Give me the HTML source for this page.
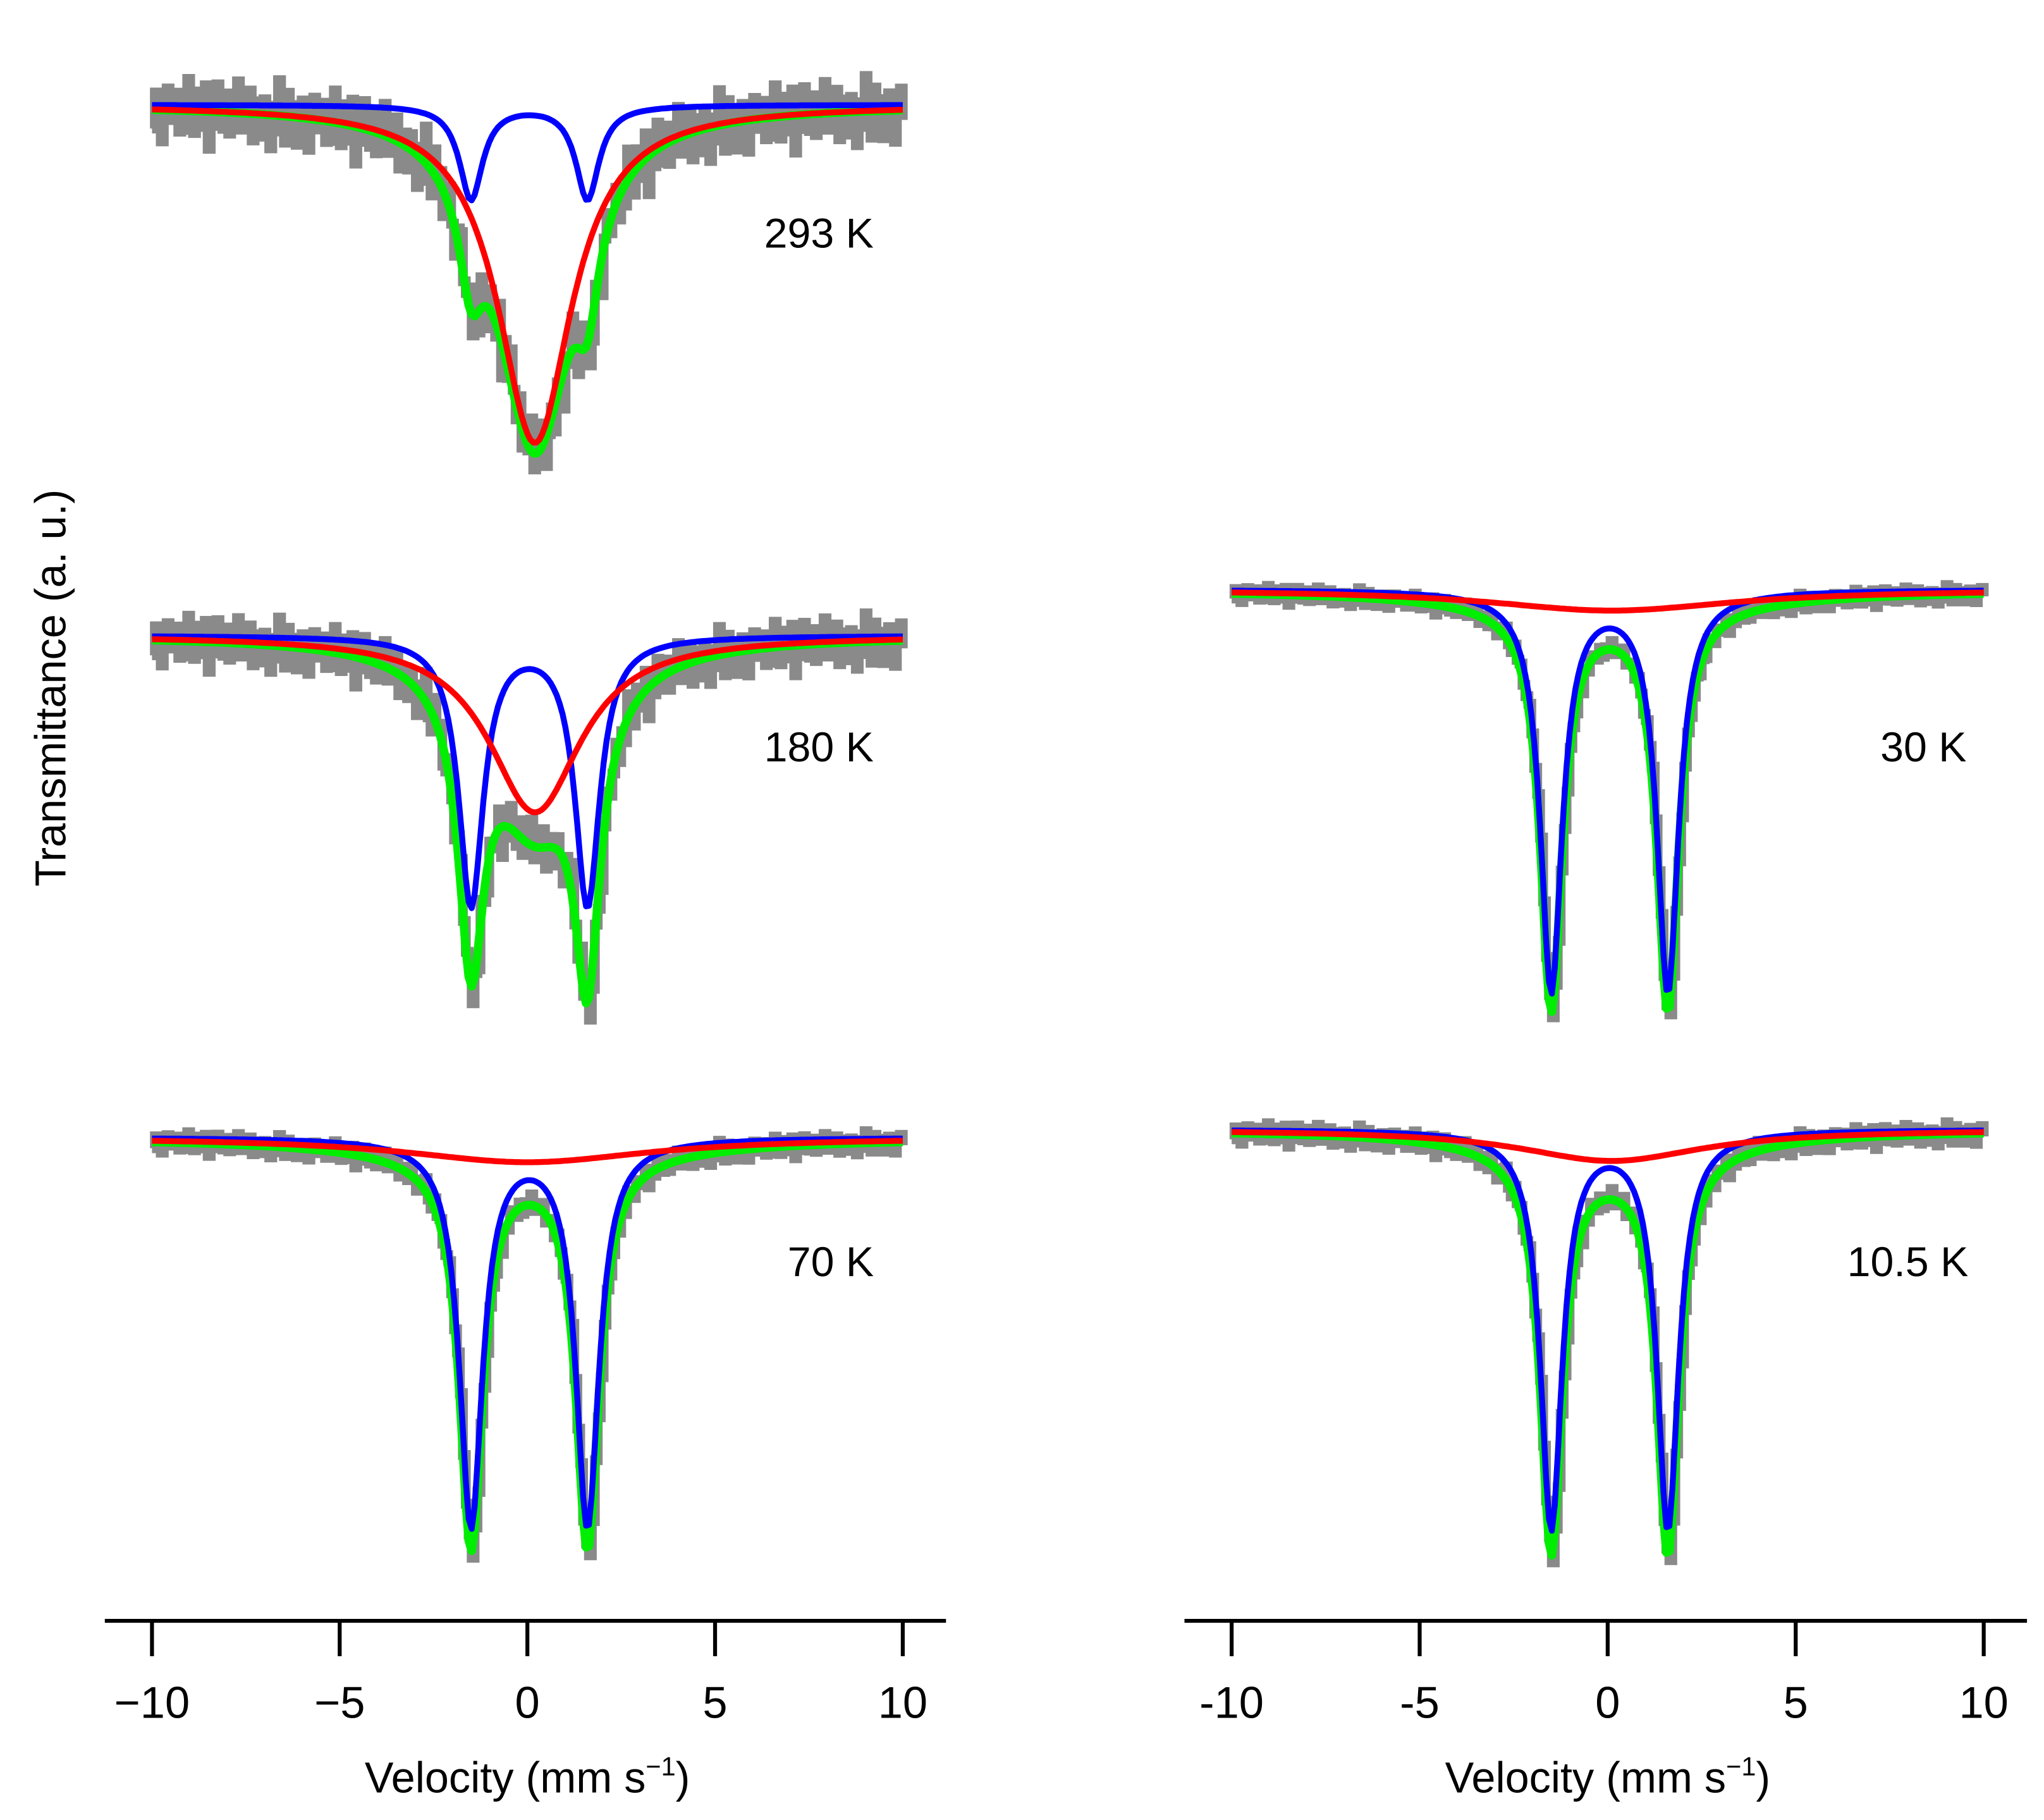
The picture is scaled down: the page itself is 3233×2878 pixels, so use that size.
<!DOCTYPE html>
<html><head><meta charset="utf-8"><style>
html,body{margin:0;padding:0;background:#fff}
svg{display:block}
text{font-family:"Liberation Sans",Arial,sans-serif;fill:#000}
</style></head><body>
<svg id="chart" width="3233" height="2878" viewBox="0 0 1560 1389" preserveAspectRatio="none" xmlns="http://www.w3.org/2000/svg"></svg>
<script>
// ---- data ----
const panelNames = ["293 K","180 K","70 K","30 K","10.5 K"];
const doubletCenters = [[-1.5,1.6],[-1.5,1.6],[-1.5,1.6],[-1.5,1.6],[-1.5,1.6]];
const doubletDepth = [72,205,295,305,303];
const doubletFwhm = [0.75,0.8,0.75,0.7,0.7];
const broadCenter = [0.2,0.2,0.0,0.1,0.1];
const broadDepth = [258,135,19,16,24];
const broadFwhm = [2.4,3.0,8,8,6];
const noiseAmp = [30,24,10,8,10];
const noise = [0.6,-0.8,0.3,1.0,-0.4,-1.0,0.5,0.1,-0.6,0.9,-0.2,0.7,-0.9,0.2,0.8,-0.5,-0.1,0.4,-0.7,1.0,-0.3,0.6,-1.0,0.0,0.5,-0.6,0.9,-0.4,0.2,-0.8,0.7,0.3,-0.2,-0.9,0.8,0.1,-0.5,0.6,-0.7,0.4,1.0,-0.3,0.0,-1.0,0.5,0.9,-0.6,0.2,-0.4,0.7];
const xTicks = [-10,-5,0,5,10];
const xTickLabels = [["\u221210","\u22125","0","5","10"],["-10","-5","0","5","10"]];
// ---- layout ----
const NS="http://www.w3.org/2000/svg";
const svg=document.getElementById('chart');
const cols=[{x0:116,x1:689},{x0:940,x1:1514}];
const panels=[{col:0,base:80,label:[625,178]},{col:0,base:485,label:[625,570]},{col:0,base:868,label:[634,963]},{col:1,base:450,label:[1468,570]},{col:1,base:862,label:[1456,963]}];
function xs(c,v){const C=cols[c];return C.x0+(v+10)/20*(C.x1-C.x0);}
function lor(v,c,a,w){const t=(v-c)/(w/2);return a/(1+t*t);}
function mk(tag,attrs){const e=document.createElementNS(NS,tag);for(const k in attrs)e.setAttribute(k,attrs[k]);svg.appendChild(e);return e;}
panels.forEach((p,i)=>{
  const ys=a=>p.base+a;
  const N=256, blue=[],red=[],green=[],vs=[];
  for(let k=0;k<=N;k++){const v=-10+20*k/N;vs.push(v);
    const b=lor(v,doubletCenters[i][0],doubletDepth[i],doubletFwhm[i])+lor(v,doubletCenters[i][1],doubletDepth[i],doubletFwhm[i]);
    const r=lor(v,broadCenter[i],broadDepth[i],broadFwhm[i]);
    blue.push(b);red.push(r);green.push(b+r);}
  let g="";
  for(let k=0;k<=N;k++){const x=xs(p.col,vs[k]);const y=ys(green[k]+noise[k%noise.length]*noiseAmp[i]*(0.5+0.5*Math.abs(noise[(k*7)%noise.length])));
    g+=(k?"H"+x.toFixed(1)+"V":"M"+x.toFixed(1)+" ")+y.toFixed(1);}
  let e=mk('path',{d:g,fill:'none',stroke:'#8a8a8a','stroke-width':7.5});
  
  
  const line=(arr,col,w,name)=>{const d=arr.map((a,k)=>(k?"L":"M")+xs(p.col,vs[k]).toFixed(1)+" "+ys(a).toFixed(1)).join("");
    const el=mk('path',{d:d,fill:'none',stroke:col,'stroke-width':w,'stroke-linejoin':'round'});
    
    };
  line(green,'#00ee00',6.5,'fit-total-'+i);
  line(blue,'#0000ff',4.5,'fit-doublet-'+i);
  line(red,'#ff0000',4.5,'fit-broad-'+i);
  const t=mk('text',{x:p.label[0],y:p.label[1]+11,'font-size':32,'text-anchor':'middle'});t.textContent=panelNames[i];
  
  
});
[0,1].forEach(c=>{
  const C=cols[c];
  let a=mk('line',{x1:C.x0-36,x2:C.x1+33,y1:1237,y2:1237,stroke:'#000','stroke-width':3});
  
  
  xTicks.forEach((v,j)=>{const x=xs(c,v);
    mk('line',{x1:x,x2:x,y1:1237,y2:1264,stroke:'#000','stroke-width':3});
    const t=mk('text',{x:x,y:1311,'font-size':34,'text-anchor':'middle'});t.textContent=xTickLabels[c][j];
    
    });
  const tt=mk('text',{x:(C.x0+C.x1)/2,y:1368,'font-size':33,'text-anchor':'middle'});
  tt.innerHTML='Velocity (mm s<tspan dy="-13" font-size="20">\u22121</tspan><tspan dy="13">)</tspan>';
  
  
});
const yl=mk('text',{x:0,y:0,'font-size':33,'text-anchor':'middle',transform:'translate(50,525) rotate(-90)'});
yl.textContent='Transmittance (a. u.)';


</script>
</body></html>
